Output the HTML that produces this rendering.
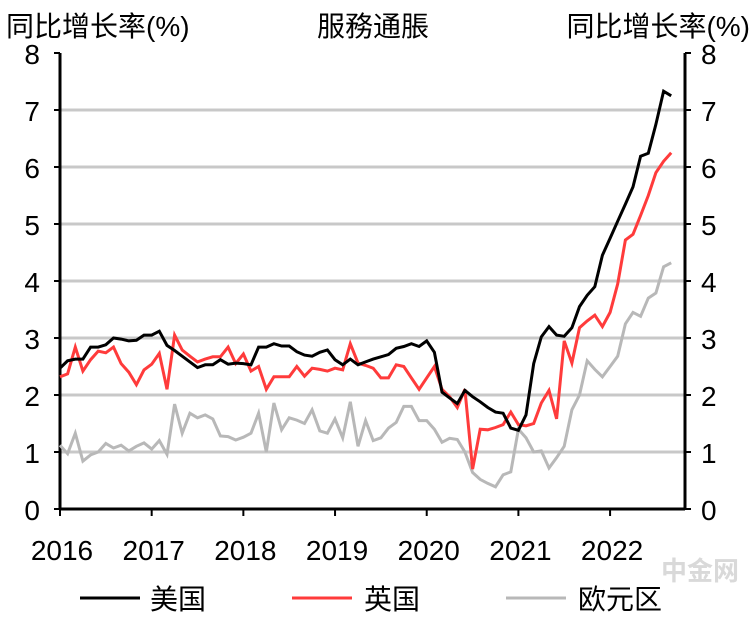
<!DOCTYPE html>
<html><head><meta charset="utf-8"><style>
html,body{margin:0;padding:0;background:#fff;}
svg{display:block;font-family:"Liberation Sans","Noto Sans CJK SC",sans-serif;}
</style></head><body>
<svg id="chart" width="756" height="623" viewBox="0 0 756 623" xmlns="http://www.w3.org/2000/svg">
<text x="6" y="36" font-size="28" fill="#000">同比增长率(%)</text>
<text x="373" y="36" font-size="28" fill="#000" text-anchor="middle">服務通脹</text>
<text x="750" y="36" font-size="28" fill="#000" text-anchor="end">同比增长率(%)</text>
<g id="grid"></g><g id="axes"></g><g id="series"></g>
<g>
<line x1="80" y1="598" x2="140" y2="598" stroke="#000" stroke-width="3"/>
<text x="150" y="609" font-size="28">美国</text>
<line x1="292" y1="598" x2="352" y2="598" stroke="#ff3b3b" stroke-width="3"/>
<text x="364" y="609" font-size="28">英国</text>
<line x1="506" y1="598" x2="566" y2="598" stroke="#b8b8b8" stroke-width="3"/>
<text x="578" y="609" font-size="28">欧元区</text>
</g>
<text x="700" y="580" font-size="26" fill="#d9d9d9" text-anchor="middle" font-weight="bold">中金网</text>
</svg>
<script>
const years = ["2016","2017","2018","2019","2020","2021","2022"];
const yTicks = [0,1,2,3,4,5,6,7,8];
const usValues = [2.47,2.6,2.63,2.63,2.84,2.84,2.88,3.0,2.98,2.95,2.96,3.05,3.05,3.12,2.87,2.78,2.68,2.58,2.48,2.53,2.53,2.62,2.54,2.56,2.55,2.53,2.84,2.84,2.9,2.86,2.86,2.76,2.7,2.68,2.75,2.79,2.62,2.53,2.63,2.53,2.58,2.63,2.67,2.71,2.82,2.85,2.9,2.85,2.95,2.75,2.05,1.95,1.85,2.08,1.97,1.88,1.78,1.7,1.68,1.42,1.38,1.65,2.55,3.02,3.2,3.05,3.03,3.18,3.55,3.75,3.9,4.45,4.75,5.05,5.35,5.65,6.19,6.24,6.75,7.33,7.25];
const ukValues = [2.32,2.37,2.84,2.42,2.62,2.77,2.74,2.84,2.55,2.4,2.18,2.44,2.54,2.73,2.1,3.05,2.79,2.68,2.58,2.63,2.67,2.67,2.84,2.55,2.72,2.42,2.5,2.1,2.32,2.32,2.32,2.5,2.33,2.47,2.45,2.42,2.47,2.44,2.9,2.56,2.52,2.47,2.3,2.3,2.53,2.5,2.3,2.1,2.3,2.5,2.1,1.97,1.78,2.1,0.7,1.4,1.39,1.43,1.48,1.7,1.48,1.46,1.5,1.86,2.08,1.58,2.95,2.56,3.18,3.3,3.4,3.2,3.45,3.95,4.72,4.82,5.15,5.5,5.9,6.1,6.25];
const euValues = [1.12,0.97,1.33,0.84,0.95,1.0,1.15,1.07,1.12,1.02,1.1,1.16,1.05,1.2,0.96,1.84,1.33,1.68,1.6,1.65,1.58,1.28,1.27,1.21,1.26,1.33,1.68,1.0,1.86,1.39,1.6,1.56,1.5,1.74,1.37,1.33,1.58,1.25,1.88,1.1,1.55,1.2,1.25,1.42,1.52,1.8,1.8,1.55,1.55,1.4,1.17,1.24,1.22,1.0,0.64,0.52,0.45,0.39,0.6,0.65,1.4,1.25,1.0,1.02,0.72,0.9,1.1,1.74,2.0,2.6,2.45,2.32,2.5,2.68,3.25,3.45,3.38,3.7,3.79,4.25,4.32];

const NS="http://www.w3.org/2000/svg";
const L=60,R=685,Y0=509,UNIT=57,STEP=7.64;
function xScale(i){return L+i*STEP;}
function yScale(v){return Y0-v*UNIT;}
function mk(tag,attrs,parent){const e=document.createElementNS(NS,tag);for(const k in attrs)e.setAttribute(k,attrs[k]);parent.appendChild(e);return e;}
const grid=document.getElementById('grid'),axes=document.getElementById('axes'),series=document.getElementById('series');
yTicks.forEach(t=>{
  const y=yScale(t);
  if(t>0&&t<8){const g=mk('line',{x1:L,x2:R,y1:y,y2:y,stroke:'#c8c8c8','stroke-width':3},grid);
  
  }
  const tl=mk('text',{x:L-20,y:y+11,'font-size':28,'text-anchor':'end'},axes);tl.textContent=t;
  
  
  const tr=mk('text',{x:R+16,y:y+11,'font-size':28},axes);tr.textContent=t;
  
  
  mk('line',{x1:L-6,x2:L,y1:y,y2:y,stroke:'#000','stroke-width':2},axes);
  mk('line',{x1:R,x2:R+6,y1:y,y2:y,stroke:'#000','stroke-width':2},axes);
});
const la=mk('line',{x1:L,x2:L,y1:yScale(8),y2:Y0,stroke:'#000','stroke-width':3},axes);


const ra=mk('line',{x1:R,x2:R,y1:yScale(8),y2:Y0,stroke:'#000','stroke-width':3},axes);


const xa=mk('line',{x1:L,x2:R,y1:Y0,y2:Y0,stroke:'#000','stroke-width':3},axes);


years.forEach((yr,k)=>{
  const x=xScale(k*12);
  mk('line',{x1:x,x2:x,y1:Y0,y2:Y0+7,stroke:'#000','stroke-width':2},axes);
  const t=mk('text',{x:x+2,y:560,'font-size':28,'text-anchor':'middle'},axes);t.textContent=yr;
  
  
});
function draw(vals,color,name){
  const d=vals.map((v,i)=>(i?'L':'M')+xScale(i).toFixed(1)+' '+yScale(v).toFixed(1)).join(' ');
  const p=mk('path',{d:d,fill:'none',stroke:color,'stroke-width':3,'stroke-linejoin':'miter'},series);
  
  
}
draw(euValues,'#b8b8b8','eurozone-line');
draw(ukValues,'#ff3b3b','uk-line');
draw(usValues,'#000','us-line');
</script>
</body></html>
